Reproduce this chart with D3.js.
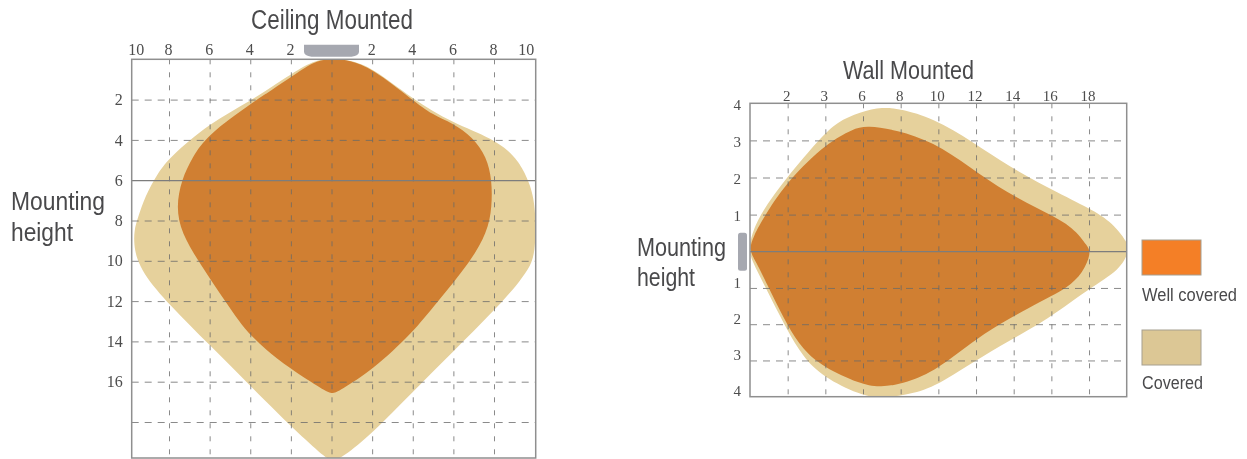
<!DOCTYPE html>
<html lang="en">
<head>
<meta charset="UTF-8">
<title>Mounting coverage</title>
<script src="https://cdn.jsdelivr.net/npm/d3@7"></script>
<style>
  html, body { margin: 0; padding: 0; background: #fff; }
  svg { display: block; }
  .title { font-family: "Liberation Sans", sans-serif; fill: #4a4a4c; }
  .tick text { font-family: "Liberation Serif", "DejaVu Serif", serif; font-size: 16px; fill: #4d4d4d; }
</style>
</head>
<body>
<svg id="chart" width="1247" height="459"></svg>
<script>
// ceiling mounted: metres from the centre, and depth below the ceiling
var ceilingXTicks = [-10, -8, -6, -4, -2, 0, 2, 4, 6, 8, 10];
var ceilingYTicks = [2, 4, 6, 8, 10, 12, 14, 16, 18];
var ceilingYLabels = ["2", "4", "6", "8", "10", "12", "14", "16", ""];
var ceilingCoveredX = [0, 0.9, 1.97, 3.99, 5.96, 7.93, 9.1, 9.73, 10, 10, 9.73, 8.05, 5.96, 3.99, 2.02, 0.5, 0, -0.5, -1.97, -4.04, -6.01, -7.98, -9.45, -9.88, -9.88, -9.65, -9.3, -8.6, -7.95, -6.01, -4.04, -2.07, -0.9];
var ceilingCoveredY = [-0.05, 0.05, 0.38, 1.97, 3.16, 3.91, 4.85, 6.14, 7.33, 9.46, 10.46, 12.44, 14.53, 16.51, 18.55, 19.8, 19.95, 19.6, 18.25, 16.16, 14.17, 12.19, 10.6, 9.46, 8.47, 7.83, 6.83, 5.64, 4.85, 3.16, 2.12, 0.78, 0.05];
var ceilingWellX = [0, 0.9, 1.97, 3.99, 4.98, 5.96, 6.95, 7.64, 7.9, 7.9, 7.68, 6.8, 5.17, 3.99, 2.02, 0.39, 0, -0.39, -1.97, -4.04, -5.17, -6.5, -7.39, -7.65, -7.39, -6.85, -6.11, -3.94, -1.97, -0.9];
var ceilingWellY = [-0.05, 0.05, 0.43, 2.02, 2.76, 3.16, 3.86, 4.85, 5.99, 7.33, 8.57, 10.11, 12.09, 13.58, 15.42, 16.45, 16.62, 16.4, 15.42, 13.78, 12.09, 10.11, 8.62, 7.33, 5.99, 4.85, 3.76, 2.17, 0.88, 0.1];

// wall mounted: distance from the wall, and height above / below the mount
var wallXTicks = [2, 4, 6, 8, 10, 12, 14, 16, 18];
var wallXLabels = ["2", "3", "6", "8", "10", "12", "14", "16", "18"];
var wallYTicks = [4, 3, 2, 1, -1, -2, -3, -4];
var wallCoveredX = [-0.1, 0.16, 0.69, 1.96, 3.72, 4.62, 5.84, 7.06, 7.96, 9.72, 11.84, 13.8, 15.77, 17.89, 19.11, 20.1, 20.1, 19.64, 18.05, 15.77, 13.8, 11.84, 9.72, 8.34, 6.9, 5.84, 3.88, 2.81, 1.96, 0.9, 0.16];
var wallCoveredY = [0.05, 0.58, 1.13, 2.01, 3.06, 3.5, 3.77, 3.9, 3.85, 3.6, 2.96, 2.28, 1.74, 1.2, 0.85, 0.23, -0.01, -0.5, -1, -1.88, -2.44, -3.04, -3.76, -3.95, -4.05, -3.95, -3.46, -2.9, -2.16, -1.06, -0.31];
var wallWellX = [-0.05, 0.16, 0.8, 2.02, 4.09, 5.47, 6.21, 7.8, 9.72, 11.68, 13.64, 15.77, 17.15, 17.95, 18.1, 17.68, 16.83, 15.77, 13.8, 12.05, 9.93, 8.34, 6.9, 5.84, 3.88, 2.81, 1.96, 1.06, 0.27];
var wallWellY = [0.05, 0.4, 0.99, 1.93, 2.93, 3.31, 3.4, 3.28, 2.96, 2.28, 1.58, 1.04, 0.67, 0.13, -0.04, -0.59, -1, -1.28, -1.83, -2.38, -3.26, -3.62, -3.75, -3.65, -3.18, -2.71, -2.02, -1.06, -0.23];

var legendLabels = ["Well covered", "Covered"];

var coveredColor = "#e6d19c";
var wellColor = "#d07f31";
var gridColor = "rgba(105,105,105,0.78)";
var frameColor = "#8f8f8f";

var svg = d3.select("#chart");

var defs = svg.append("defs");
defs.append("filter").attr("id", "soft").append("feGaussianBlur").attr("stdDeviation", 0.35);
var root = svg.append("g").attr("filter", "url(#soft)");

function zip(xs, ys) {
    return xs.map(function(x, i) { return [x, ys[i]]; });
}

function drawShape(g, xs, ys, x, y, color) {
    var line = d3.line()
        .x(function(d) { return x(d[0]); })
        .y(function(d) { return y(d[1]); })
        .curve(d3.curveBasisClosed);
    g.append("path").attr("d", line(zip(xs, ys))).attr("fill", color);
}

function styleGrid(g, dash) {
    g.select(".domain").remove();
    g.selectAll(".tick line")
        .attr("stroke", gridColor)
        .attr("stroke-width", 1)
        .attr("stroke-dasharray", dash);
}

function frame(g, x0, y0, x1, y1) {
    g.append("rect")
        .attr("x", x0).attr("y", y0)
        .attr("width", x1 - x0).attr("height", y1 - y0)
        .attr("fill", "none")
        .attr("stroke", frameColor)
        .attr("stroke-width", 1.5);
}

// the original face is condensed, so squeeze each text to its measured width
function addText(g, str, x, y, size, width) {
    return g.append("text")
        .attr("class", "title")
        .attr("x", x).attr("y", y)
        .attr("font-size", size)
        .attr("textLength", width)
        .attr("lengthAdjust", "spacingAndGlyphs")
        .text(str);
}

// ---- ceiling mounted ----
var cx = d3.scaleLinear().domain([-10, -8, 8, 10]).range([131.7, 169, 494, 535.7]);
var cy = d3.scaleLinear().domain([0, 18]).range([59.3, 422]);
var cBottom = 458;
var ceil = root.append("g");

ceil.append("clipPath").attr("id", "ceilClip").append("rect")
    .attr("x", cx(-10)).attr("y", cy(0)).attr("width", cx(10) - cx(-10)).attr("height", cBottom - cy(0));
var ceilShapes = ceil.append("g").attr("clip-path", "url(#ceilClip)");
drawShape(ceilShapes, ceilingCoveredX, ceilingCoveredY, cx, cy, coveredColor);
drawShape(ceilShapes, ceilingWellX, ceilingWellY, cx, cy, wellColor);

var cxAxis = ceil.append("g")
    .attr("transform", "translate(0," + cy(0) + ")")
    .call(d3.axisTop(cx).tickValues(ceilingXTicks)
        .tickSizeInner(-(cBottom - cy(0))).tickSizeOuter(0).tickPadding(4)
        .tickFormat(function(d) { return d === 0 ? "" : Math.abs(d); }));
styleGrid(cxAxis, "5,8");
cxAxis.selectAll(".tick").filter(function(d) { return Math.abs(d) === 10; }).select("line").remove();
// the two 10 labels sit a bit inside the frame corners
cxAxis.selectAll(".tick").filter(function(d) { return Math.abs(d) === 10; }).select("text")
    .attr("dx", function(d) { return d < 0 ? 4 : -10; });
cxAxis.selectAll(".tick text").filter(function(d) { return Math.abs(d) < 10; }).attr("dx", -1);

var cyAxis = ceil.append("g")
    .attr("transform", "translate(" + cx(-10) + ",0)")
    .call(d3.axisLeft(cy).tickValues(ceilingYTicks)
        .tickSizeInner(-(cx(10) - cx(-10))).tickSizeOuter(0).tickPadding(9)
        .tickFormat(function(d, i) { return ceilingYLabels[i]; }));
styleGrid(cyAxis, "7,6");
cyAxis.selectAll(".tick").filter(function(d) { return d === 6; }).select("line")
    .attr("stroke-dasharray", null)
    .attr("stroke", "#7d7d7d")
    .attr("stroke-width", 1.3);

frame(ceil, cx(-10), cy(0), cx(10), cBottom);

// lamp on the ceiling
var lampTop = cy(0) - 14.5;
ceil.append("path")
    .attr("d", "M" + (cx(0) - 27.5) + "," + lampTop + "H" + (cx(0) + 27.5) + "V" + (lampTop + 7)
        + "Q" + (cx(0) + 27.5) + "," + (lampTop + 11) + " " + (cx(0) + 20) + "," + (lampTop + 12)
        + "H" + (cx(0) - 20)
        + "Q" + (cx(0) - 27.5) + "," + (lampTop + 11) + " " + (cx(0) - 27.5) + "," + (lampTop + 7) + "Z")
    .attr("fill", "#a6a8b0");

addText(ceil, "Ceiling Mounted", 251, 29, 27, 162);
addText(ceil, "Mounting", 11, 210, 26, 94);
addText(ceil, "height", 11, 241, 26, 62);

// ---- wall mounted ----
var wx = d3.scaleLinear().domain([0, 20]).range([750, 1126.7]);
var wy = d3.scaleLinear().domain([4, 0, -4]).range([103.3, 251.7, 396.7]);
var wall = root.append("g");

wall.append("clipPath").attr("id", "wallClip").append("rect")
    .attr("x", wx(0)).attr("y", wy(4)).attr("width", wx(20) - wx(0)).attr("height", wy(-4) - wy(4));
var wallShapes = wall.append("g").attr("clip-path", "url(#wallClip)");
drawShape(wallShapes, wallCoveredX, wallCoveredY, wx, wy, coveredColor);
drawShape(wallShapes, wallWellX, wallWellY, wx, wy, wellColor);

var wxAxis = wall.append("g")
    .attr("transform", "translate(0," + wy(4) + ")")
    .call(d3.axisTop(wx).tickValues(wallXTicks)
        .tickSizeInner(-(wy(-4) - wy(4))).tickSizeOuter(0).tickPadding(2)
        .tickFormat(function(d, i) { return wallXLabels[i]; }));
styleGrid(wxAxis, "5,8");
wxAxis.selectAll(".tick text").attr("dx", -1.5).style("font-size", "15px");

var wyAxis = wall.append("g")
    .attr("transform", "translate(" + wx(0) + ",0)")
    .call(d3.axisLeft(wy).tickValues(wallYTicks)
        .tickSizeInner(-(wx(20) - wx(0))).tickSizeOuter(0).tickPadding(9)
        .tickFormat(function(d) { return Math.abs(d); }));
styleGrid(wyAxis, "7,6");
wyAxis.selectAll(".tick").filter(function(d) { return Math.abs(d) === 4; }).select("line").remove();
wyAxis.selectAll(".tick text")
    .attr("dy", function(d) { return d < 0 ? "-0.05em" : "0.42em"; })
    .style("font-size", "15px");

// solid centre line through the mount
wall.append("line")
    .attr("x1", wx(0)).attr("x2", wx(20))
    .attr("y1", wy(0)).attr("y2", wy(0))
    .attr("stroke", "#7d7d7d").attr("stroke-width", 1.3);

frame(wall, wx(0), wy(4), wx(20), wy(-4));

// lamp on the wall
wall.append("rect")
    .attr("x", wx(0) - 12).attr("y", wy(0) - 19)
    .attr("width", 9).attr("height", 38)
    .attr("rx", 2.5)
    .attr("fill", "#a6a8b0");

addText(wall, "Wall Mounted", 843, 79, 25, 131);
addText(wall, "Mounting", 637, 256, 25, 89);
addText(wall, "height", 637, 286, 25, 58);

// ---- legend ----
var legendY = d3.scalePoint().domain(legendLabels).range([240, 330]);
var legendWidth = { "Well covered": 95, "Covered": 61 };
var legendFill = { "Well covered": "#f47f28", "Covered": "#dcc795" };
var legend = root.append("g");

legendLabels.forEach(function(name) {
    legend.append("rect")
        .attr("x", 1142).attr("y", legendY(name))
        .attr("width", 59).attr("height", 35)
        .attr("fill", legendFill[name])
        .attr("stroke", "#a69f90").attr("stroke-width", 1);
    addText(legend, name, 1142, legendY(name) + (name === "Covered" ? 59 : 61), 17.5, legendWidth[name]);
});
</script>
</body>
</html>
